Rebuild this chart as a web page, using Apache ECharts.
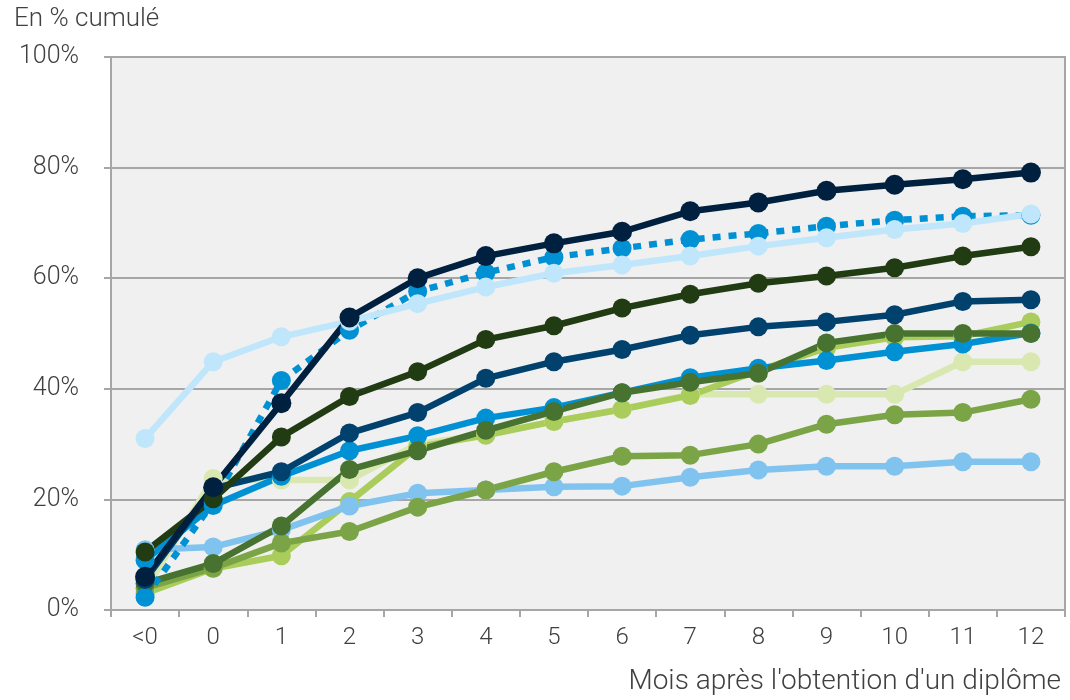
<!DOCTYPE html>
<html>
<head>
<meta charset="utf-8">
<script src="https://cdn.jsdelivr.net/npm/echarts@6/dist/echarts.min.js"></script>
<style>
  html, body { margin: 0; padding: 0; background: #ffffff; }
  #chart { width: 1070px; height: 700px; }
</style>
</head>
<body>
<div id="chart"></div>
<script>
// Mois après l'obtention du diplôme (catégories de l'axe horizontal)
const months = ['<0', '0', '1', '2', '3', '4', '5', '6', '7', '8', '9', '10', '11', '12'];
const yTicks = [0, 20, 40, 60, 80, 100];

// Parts cumulées (en %) par groupe
const navy      = [6.0, 22.2, 37.4, 52.9, 60.0, 64.0, 66.3, 68.4, 72.1, 73.7, 75.8, 76.9, 77.9, 79.1];
const dotted    = [2.3, 19.5, 41.5, 50.6, 57.6, 61.0, 63.8, 65.4, 67.0, 68.1, 69.4, 70.5, 71.2, 71.4];
const lightBlue = [31.0, 44.9, 49.4, 52.2, 55.4, 58.4, 60.9, 62.4, 64.0, 65.8, 67.3, 68.8, 69.9, 71.6];
const darkGreen = [10.5, 20.1, 31.3, 38.6, 43.1, 48.9, 51.4, 54.6, 57.1, 59.1, 60.4, 61.9, 64.0, 65.7];
const darkBlue  = [5.5, 22.0, 25.0, 32.0, 35.7, 41.9, 44.9, 47.1, 49.7, 51.2, 52.1, 53.4, 55.8, 56.1];
const midBlue   = [9.0, 18.9, 24.2, 28.8, 31.5, 34.7, 36.6, 39.3, 42.0, 43.7, 45.1, 46.7, 48.1, 50.1];
const paleGreen = [3.6, 23.8, 23.5, 23.5, 30.0, 31.8, 34.1, 36.3, 39.0, 39.0, 39.0, 39.0, 44.9, 44.9];
const lime      = [3.0, 7.5, 9.8, 19.6, 29.5, 31.6, 34.1, 36.3, 38.8, 43.3, 47.4, 49.3, 49.5, 52.1];
const midGreen  = [4.8, 8.4, 15.2, 25.4, 28.8, 32.5, 35.9, 39.3, 41.2, 42.8, 48.3, 50.0, 50.0, 50.0];
const olive     = [4.0, 7.6, 12.1, 14.2, 18.6, 21.7, 25.0, 27.8, 28.0, 30.0, 33.6, 35.3, 35.7, 38.1];
const skyBlue   = [10.9, 11.4, 14.5, 18.8, 21.1, 21.7, 22.3, 22.4, 24.0, 25.3, 26.0, 26.0, 26.8, 26.8];

// Drawing order: first entry sits at the bottom of the stack
const lines = [
  { name: 'paleGreen', data: paleGreen, color: '#d9e8b1' },
  { name: 'lime',      data: lime,      color: '#a9cc5b' },
  { name: 'skyBlue',   data: skyBlue,   color: '#80c3ef' },
  { name: 'olive',     data: olive,     color: '#7aa446' },
  { name: 'midBlue',   data: midBlue,   color: '#0091d5' },
  { name: 'midGreen',  data: midGreen,  color: '#477230' },
  { name: 'dotted',    data: dotted,    color: '#0091d5', dash: true },
  { name: 'lightBlue', data: lightBlue, color: '#bfe6fb' },
  { name: 'darkBlue',  data: darkBlue,  color: '#00416e' },
  { name: 'darkGreen', data: darkGreen, color: '#213b12' },
  { name: 'navy',      data: navy,      color: '#00203f', size: 20 }
];

const textColor = '#404040';
const axisGray = '#a6a6a6';
const font = 'Roboto';

const chart = echarts.init(document.getElementById('chart'), null, { renderer: 'canvas' });

chart.setOption({
  animation: false,
  backgroundColor: '#ffffff',
  title: [
    {
      text: 'En % cumulé',
      left: 9, top: 1,
      textStyle: { fontFamily: font, fontWeight: 300, fontSize: 26, color: textColor }
    },
    {
      text: "Mois après l'obtention d'un diplôme",
      right: 4, bottom: -1,
      textStyle: { fontFamily: font, fontWeight: 300, fontSize: 28, color: textColor }
    }
  ],
  grid: {
    left: 111, right: 5, top: 57, bottom: 90,
    show: true,
    backgroundColor: '#f0f0f0',
    borderColor: axisGray,
    borderWidth: 2
  },
  xAxis: {
    type: 'category',
    data: months,
    boundaryGap: true,
    axisLine: { show: true, lineStyle: { color: axisGray, width: 2 } },
    axisTick: { show: true, alignWithLabel: false, length: 7, lineStyle: { color: axisGray, width: 2 } },
    axisLabel: { margin: 16, color: textColor, fontFamily: font, fontWeight: 300, fontSize: 24 },
    splitLine: { show: false }
  },
  yAxis: {
    type: 'value',
    min: yTicks[0],
    max: yTicks[yTicks.length - 1],
    interval: yTicks[1] - yTicks[0],
    axisLine: { show: true, lineStyle: { color: axisGray, width: 2 } },
    axisTick: { show: true, length: 7, lineStyle: { color: axisGray, width: 2 } },
    axisLabel: {
      margin: 32, color: textColor, fontFamily: font, fontWeight: 300, fontSize: 25,
      formatter: v => v + '%'
    },
    splitLine: { show: true, lineStyle: { color: axisGray, width: 2 } }
  },
  series: lines.map(l => ({
    name: l.name,
    type: 'line',
    data: l.data,
    symbol: 'circle',
    symbolSize: l.size || 19,
    showSymbol: true,
    lineStyle: {
      color: l.color,
      width: 6.5,
      type: l.dash ? [8, 8] : 'solid',
      cap: 'butt'
    },
    itemStyle: { color: l.color, borderWidth: 0 },
    emphasis: { disabled: true }
  }))
});
</script>
</body>
</html>
